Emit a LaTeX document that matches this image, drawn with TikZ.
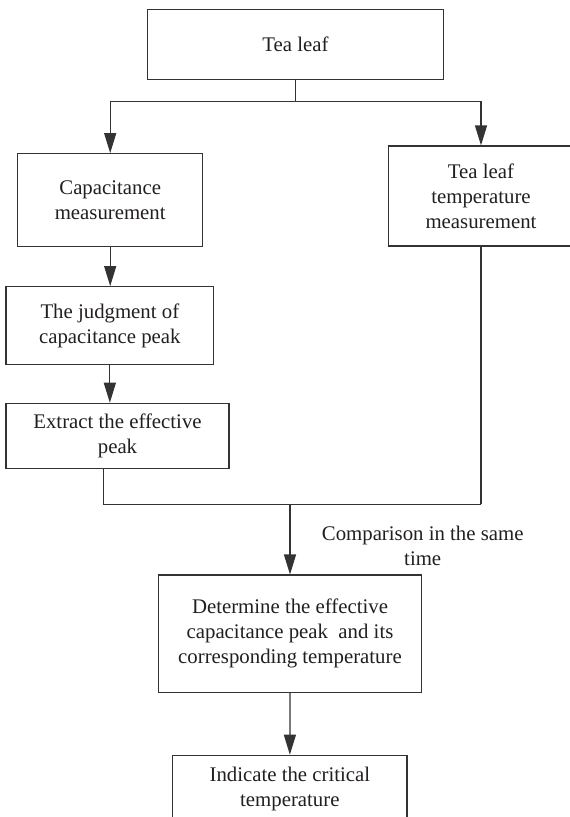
\documentclass[tikz,border=0pt]{standalone}
\usepackage{fontspec}
\setmainfont{Liberation Serif}
\usetikzlibrary{arrows.meta}
\begin{document}
\begin{tikzpicture}[x=1pt,y=1pt,
  box/.style={draw=linec, line width=1.2pt, inner sep=0pt, align=center,
    text=txtc, font=\fontsize{20.8pt}{25pt}\selectfont},
  conn/.style={draw=linec, line width=1.2pt},
  arr/.style={conn, -{Triangle[length=20pt,width=12pt]}},
  lbl/.style={align=center, text=txtc, inner sep=0pt, font=\fontsize{20.8pt}{25pt}\selectfont}]
\definecolor{linec}{HTML}{333333}
\definecolor{txtc}{HTML}{231F20}
\useasboundingbox[fill=white] (0,0) rectangle (570,-817);
% boxes
\node[box, minimum width=296.4pt, minimum height=70pt] (tea) at (295.5,-44.3) {Tea leaf};
\node[box, minimum width=185pt, minimum height=92.6pt] (cap) at (110.2,-200) {Capacitance\\measurement};
\node[box, minimum width=185.4pt, minimum height=100pt] (tlt) at (481,-196) {Tea leaf\\temperature\\measurement};
\node[box, minimum width=207.7pt, minimum height=77.6pt] (jud) at (109.85,-325.5) {The judgment of\\capacitance peak};
\node[box, minimum width=223pt, minimum height=65pt] (ext) at (117.5,-435.8) {Extract the effective\\peak};
\node[box, minimum width=263.4pt, minimum height=117.3pt] (det) at (290,-633.7) {Determine the effective\\capacitance peak\ \ and its\\corresponding temperature};
\node[box, minimum width=234.3pt, minimum height=66.4pt] (ind) at (289.85,-788.5) {Indicate the critical\\temperature};
\node[lbl] (cmp) at (422.7,-546) {Comparison in the same\\time};
% junction points
\coordinate (b0) at (295.7,-101.7);
\coordinate (jl) at (103.3,-504.3);
\coordinate (jr) at (481,-504.3);
\coordinate (jm) at (290,-504.3);
% connectors
\draw[conn] (tea.south -| b0) -- (b0);
\draw[arr] (b0) -| (cap.north);
\draw[arr] (b0) -| (tlt.north);
\draw[arr] (cap.south) -- (cap.south |- jud.north);
\draw[arr] (jud.south) -- (jud.south |- ext.north);
\draw[conn] (ext.south -| jl) -- (jl) -- (jr);
\draw[conn] (tlt.south) -- (jr);
\draw[arr] (jm) -- (det.north);
\draw[arr] (det.south) -- (ind.north);
\end{tikzpicture}
\end{document}
